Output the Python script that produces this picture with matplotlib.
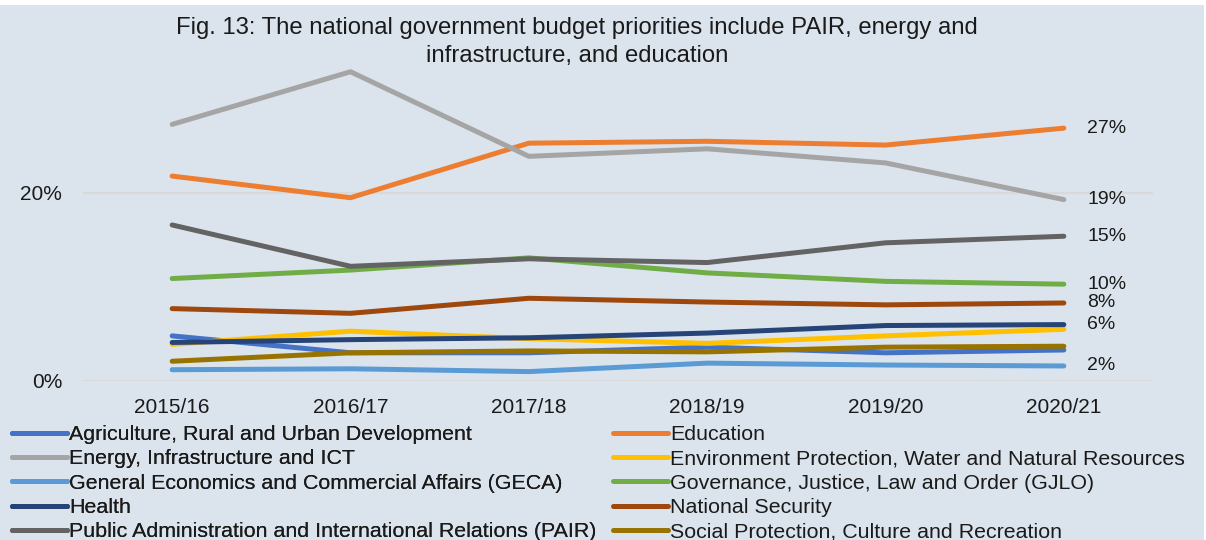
import matplotlib
matplotlib.use("Agg")
import matplotlib.pyplot as plt
from matplotlib.lines import Line2D
from matplotlib.patches import Rectangle
from matplotlib.ticker import MultipleLocator, FuncFormatter

plt.rcParams["font.family"] = ["Liberation Sans", "DejaVu Sans"]

YEARS = ["2015/16", "2016/17", "2017/18", "2018/19", "2019/20", "2020/21"]

# share of national budget, %
agriculture = [4.8, 3.0, 3.0, 3.6, 3.0, 3.3]
education = [21.8, 19.5, 25.3, 25.5, 25.1, 26.9]
energy = [27.3, 32.9, 23.9, 24.7, 23.2, 19.3]
environment = [3.9, 5.3, 4.5, 4.0, 4.8, 5.5]
geca = [1.2, 1.3, 1.0, 1.9, 1.7, 1.6]
gjlo = [10.9, 11.8, 13.1, 11.5, 10.6, 10.3]
health = [4.1, 4.4, 4.6, 5.1, 5.9, 6.0]
security = [7.7, 7.2, 8.8, 8.4, 8.1, 8.3]
pair = [16.6, 12.2, 13.0, 12.6, 14.7, 15.4]
social = [2.1, 3.0, 3.2, 3.1, 3.6, 3.7]

SECTORS = [
    ("Agriculture, Rural and Urban Development", agriculture, "#4472C4", False),
    ("Education", education, "#ED7D31", True),
    ("Energy, Infrastructure and ICT", energy, "#A5A5A5", True),
    ("Environment Protection, Water and Natural Resources", environment, "#FFC000", False),
    ("General Economics and Commercial Affairs (GECA)", geca, "#5B9BD5", True),
    ("Governance, Justice, Law and Order (GJLO)", gjlo, "#70AD47", True),
    ("Health", health, "#264478", True),
    ("National Security", security, "#9E480E", True),
    ("Public Administration and International Relations (PAIR)", pair, "#636363", True),
    ("Social Protection, Culture and Recreation", social, "#997300", False),
]

BG = "#dbe4ed"
GRID = "#d9d9d9"
INK = "#1a1a1a"
LW = 3.6
W, H = 1206, 540

fig = plt.figure(figsize=(W / 100, H / 100), dpi=100, facecolor="white")
# chart area panel (thin white margin at top and right)
fig.patches.append(Rectangle((0, 0), 1204 / W, 535 / H, transform=fig.transFigure,
                             facecolor=BG, edgecolor="none", zorder=-10))

ax = fig.add_axes([83 / W, 1 - 381 / H, 1070 / W, 329 / H])
ax.set_facecolor("none")

x = range(len(YEARS))
for name, vals, col, labelled in SECTORS:
    ax.plot(x, vals, color=col, lw=LW, solid_capstyle="round",
            solid_joinstyle="round", zorder=3)
    if labelled:
        ax.text(5.13, vals[-1], f"{vals[-1]:.0f}%", ha="left", va="center",
                fontsize=14, color=INK)

ax.set_xlim(-0.5, 5.5)
ax.set_ylim(0, 35)
ax.yaxis.set_major_locator(MultipleLocator(20))
ax.yaxis.set_major_formatter(FuncFormatter(lambda v, _: f"{v:.0f}%"))
ax.set_xticks(list(x))
ax.set_xticklabels(YEARS)
ax.tick_params(axis="both", length=0, labelsize=15, colors=INK)
ax.tick_params(axis="x", pad=12)
ax.tick_params(axis="y", pad=15)
for s in ax.spines.values():
    s.set_visible(False)
ax.grid(axis="y", color=GRID, lw=1.5, zorder=0)
ax.set_axisbelow(True)

fig.text(577 / W, 1 - 42 / H,
         "Fig. 13: The national government budget priorities include PAIR, energy and\n"
         "infrastructure, and education",
         ha="center", va="center", fontsize=17.2, linespacing=1.3, color=INK)

# legend: left column gets the even entries, right column the odd ones
handles = [Line2D([0], [0], color=c, lw=LW, solid_capstyle="round")
           for _, _, c, _ in SECTORS]
names = [n for n, _, _, _ in SECTORS]
leg_kw = dict(loc="upper left", frameon=False, fontsize=15.4, handlelength=2.55,
              handletextpad=0.12, labelspacing=0.25, borderpad=0, borderaxespad=0,
              labelcolor=INK)
left = fig.legend(handles[0::2], names[0::2],
                  bbox_to_anchor=(12 / W, 1 - 425 / H), **leg_kw)
fig.add_artist(left)
fig.legend(handles[1::2], names[1::2],
           bbox_to_anchor=(613 / W, 1 - 425 / H), **leg_kw)

fig.savefig("out.png", dpi=100)
